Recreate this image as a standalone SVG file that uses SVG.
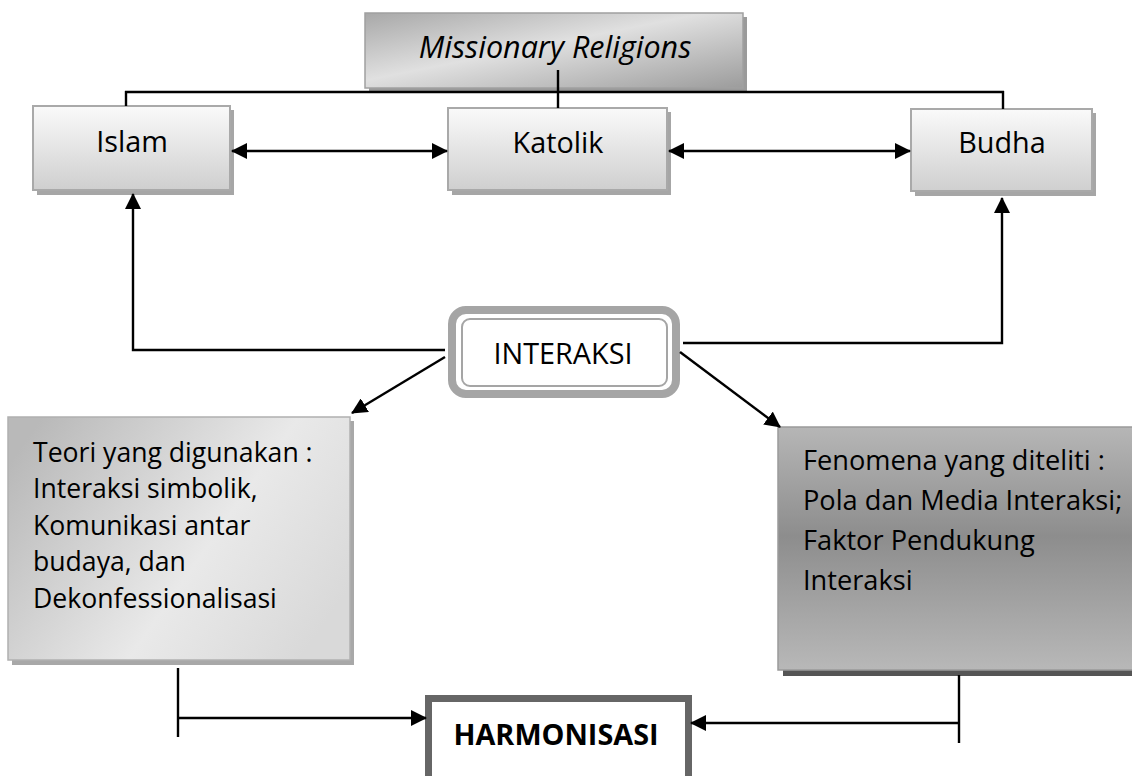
<svg xmlns="http://www.w3.org/2000/svg" width="1132" height="776" viewBox="0 0 1132 776">
  <style>
    text { font-family: "Open Sans", "Liberation Sans", sans-serif; fill: #000; }
    .lbl { font-size: 28.8px; text-anchor: middle; }
    .body { font-size: 26.6px; }
    .body2 { font-size: 27.2px; }
    .conn { fill: none; stroke: #000; stroke-width: 2.4; }
    .shadow { fill: #a6a6a6; }
    .rel { fill: url(#gRel); stroke: #a9a9a9; stroke-width: 2; }
  </style>
  <defs>
    <linearGradient id="gRel" x1="0" y1="0" x2="0" y2="1">
      <stop offset="0" stop-color="#fafafa"/>
      <stop offset="1" stop-color="#cfcfcf"/>
    </linearGradient>
    <linearGradient id="gMiss" x1="0" y1="0" x2="1" y2="1">
      <stop offset="0" stop-color="#a8a8a8"/>
      <stop offset="0.45" stop-color="#e0e0e0"/>
      <stop offset="1" stop-color="#9c9c9c"/>
    </linearGradient>
    <linearGradient id="gTeori" x1="0" y1="0.2" x2="1" y2="0.7">
      <stop offset="0" stop-color="#b9b9b9"/>
      <stop offset="0.6" stop-color="#e9e9e9"/>
      <stop offset="1" stop-color="#d9d9d9"/>
    </linearGradient>
    <linearGradient id="gFen" x1="0" y1="0" x2="0" y2="1">
      <stop offset="0" stop-color="#b6b6b6"/>
      <stop offset="0.45" stop-color="#8d8d8d"/>
      <stop offset="1" stop-color="#b8b8b8"/>
    </linearGradient>
    <marker id="arr" viewBox="0 0 16 16" markerWidth="16" markerHeight="16" refX="15" refY="8" orient="auto-start-reverse" markerUnits="userSpaceOnUse">
      <path d="M0,0 L16,8 L0,16 z" fill="#000"/>
    </marker>
  </defs>

  <g id="missionary">
    <rect x="369" y="17" width="378" height="76" fill="#9a9a9a"/>
    <rect x="365" y="13" width="378" height="75" fill="url(#gMiss)" stroke="#a0a0a0" stroke-width="1.5"/>
    <text x="555" y="58" style="font-size:30.5px;font-style:italic;text-anchor:middle">Missionary Religions</text>
  </g>

  <g id="islam">
    <rect x="37" y="110" width="197" height="85" class="shadow"/>
    <rect x="33" y="106" width="197" height="84" class="rel"/>
    <text x="132" y="152" class="lbl">Islam</text>
  </g>

  <g id="katolik">
    <rect x="452" y="112" width="219" height="83" class="shadow"/>
    <rect x="448" y="108" width="219" height="82" class="rel"/>
    <text x="558" y="153" class="lbl">Katolik</text>
  </g>

  <g id="budha">
    <rect x="915" y="113" width="181" height="83" class="shadow"/>
    <rect x="911" y="109" width="181" height="82" class="rel"/>
    <text x="1002" y="153" class="lbl">Budha</text>
  </g>

  <g id="interaksi">
    <rect x="452" y="310" width="224" height="84" rx="14" fill="#fff" stroke="#a5a5a5" stroke-width="8"/>
    <rect x="462" y="319" width="205" height="67" rx="8" fill="#fff" stroke="#a5a5a5" stroke-width="2"/>
    <text x="563" y="364" class="lbl">INTERAKSI</text>
  </g>

  <g id="teori">
    <rect x="12" y="421" width="342" height="244" fill="#a8a8a8"/>
    <rect x="8" y="417" width="342" height="243" fill="url(#gTeori)" stroke="#b0b0b0" stroke-width="1.5"/>
    <text x="33" y="462" class="body">Teori yang digunakan :</text>
    <text x="33" y="498" class="body">Interaksi simbolik,</text>
    <text x="33" y="535" class="body">Komunikasi antar</text>
    <text x="33" y="571" class="body">budaya, dan</text>
    <text x="33" y="608" class="body">Dekonfessionalisasi</text>
  </g>

  <g id="fenomena">
    <rect x="783" y="431" width="360" height="245" fill="#555"/>
    <rect x="778" y="427" width="360" height="243" fill="url(#gFen)" stroke="#9a9a9a" stroke-width="1.5"/>
    <text x="803" y="470" class="body2">Fenomena yang diteliti :</text>
    <text x="803" y="510" class="body2">Pola dan Media Interaksi;</text>
    <text x="803" y="550" class="body2">Faktor Pendukung</text>
    <text x="803" y="590" class="body2">Interaksi</text>
  </g>

  <g id="harmonisasi">
    <rect x="428.5" y="698.5" width="260" height="90" fill="#fff" stroke="#666" stroke-width="7"/>
    <text x="556" y="745" class="lbl" style="font-weight:bold">HARMONISASI</text>
  </g>

  <g id="connectors">
    <line x1="558" y1="70" x2="558" y2="108" class="conn"/>
    <line x1="125" y1="92" x2="1004" y2="92" class="conn"/>
    <line x1="126" y1="91" x2="126" y2="106" class="conn"/>
    <line x1="1003" y1="91" x2="1003" y2="109" class="conn"/>
    <line x1="232" y1="151" x2="447" y2="151" class="conn" marker-start="url(#arr)" marker-end="url(#arr)"/>
    <line x1="669" y1="151" x2="910" y2="151" class="conn" marker-start="url(#arr)" marker-end="url(#arr)"/>
    <polyline points="445,350 133,350 133,194" class="conn" marker-end="url(#arr)"/>
    <line x1="445" y1="357" x2="352" y2="413" class="conn" marker-end="url(#arr)"/>
    <polyline points="683,343 1002,343 1002,198" class="conn" marker-end="url(#arr)"/>
    <line x1="680" y1="352" x2="780" y2="427" class="conn" marker-end="url(#arr)"/>
    <line x1="178" y1="668" x2="178" y2="737" class="conn"/>
    <line x1="178" y1="718" x2="426" y2="718" class="conn" marker-end="url(#arr)"/>
    <line x1="959" y1="675" x2="959" y2="743" class="conn"/>
    <line x1="959" y1="723" x2="691" y2="723" class="conn" marker-end="url(#arr)"/>
  </g>
</svg>
